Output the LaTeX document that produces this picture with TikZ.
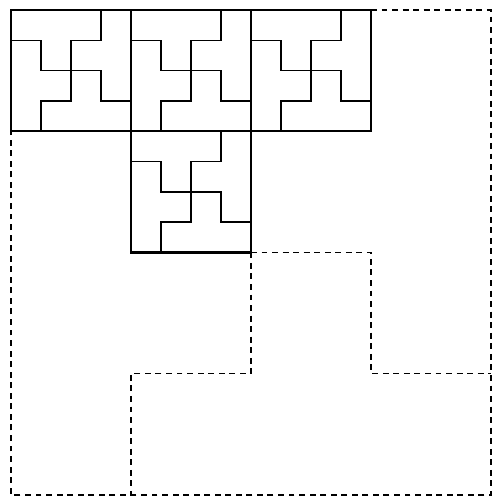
\documentclass[tikz,border=0pt]{standalone}
\begin{document}
\begin{tikzpicture}[
    x=0.5cm, y=-0.505cm,
    edge/.style={line width=1.2pt, line join=miter},
    cut/.style={line width=0.7pt},
    split/.style={line width=0.8pt, dash pattern=on 2.8pt off 2.2pt},
  ]
  \useasboundingbox (-0.367,-0.330) rectangle (16.067,16.172);

  % four small pinwheel tiles
  \foreach \tx/\ty in {0/0, 4/0, 8/0, 4/4} {
    \begin{scope}[shift={(\tx,\ty)}]
      \draw[cut] (0,1) -- (1,1) -- (1,2) -- (3,2) -- (3,3) -- (4,3);
      \draw[cut] (3,0) -- (3,1) -- (2,1) -- (2,3) -- (1,3) -- (1,4);
      \draw[edge] (0,0) rectangle (4,4);
    \end{scope}
  }

  % large tile, dashed
  \draw[split] (12,0) -- (16,0) -- (16,16) -- (0,16) -- (0,4);
  \draw[split] (8,8) -- (12,8) -- (12,12) -- (16,12);
  \draw[split] (8,8) -- (8,12) -- (4,12) -- (4,16);
\end{tikzpicture}
\end{document}
